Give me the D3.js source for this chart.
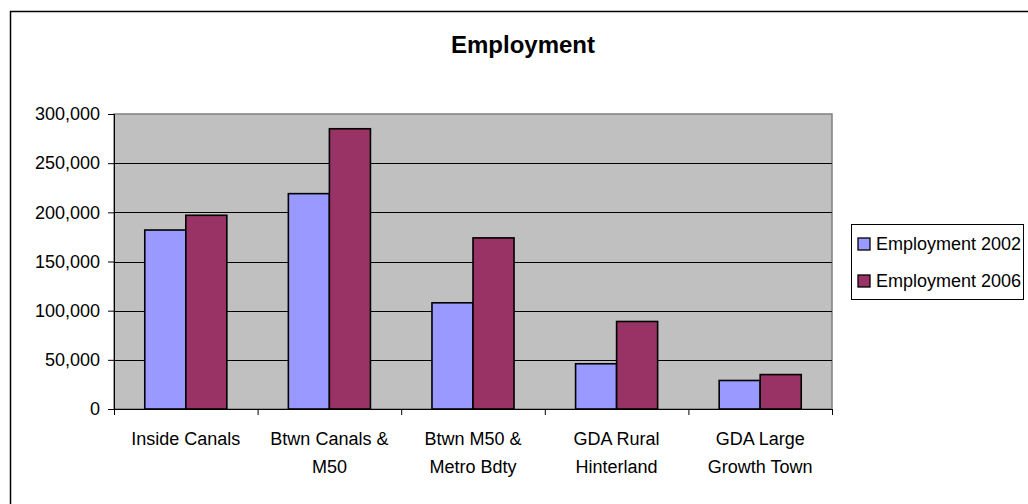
<!DOCTYPE html>
<html>
<head>
<meta charset="utf-8">
<script src="https://cdn.jsdelivr.net/npm/d3@7"></script>
<style>
  html, body { margin: 0; padding: 0; background: #fff; }
  svg { display: block; font-family: "Liberation Sans", Arial, sans-serif; }
</style>
</head>
<body>
<svg id="chart" width="1028" height="504"></svg>
<script>
// Employment by area, 2002 vs 2006
const categories = ["Inside Canals", "Btwn Canals & M50", "Btwn M50 & Metro Bdty", "GDA Rural Hinterland", "GDA Large Growth Town"];
const seriesNames = ["Employment 2002", "Employment 2006"];
const employment2002 = [182000, 219000, 108000, 46000, 29000];
const employment2006 = [197000, 285000, 174000, 89000, 35000];
const yTicks = [0, 50000, 100000, 150000, 200000, 250000, 300000];
const seriesColors = ["#9999FF", "#993366"];

const series = [employment2002, employment2006];
const svg = d3.select("#chart");

const plot = { left: 114, right: 832, top: 114, bottom: 409 };

// outer chart frame (runs off the right and bottom edges)
svg.append("rect")
  .attr("x", 10.5).attr("y", 11.5)
  .attr("width", 1200).attr("height", 700)
  .attr("fill", "#fff").attr("stroke", "#000").attr("stroke-width", 1.5);

// title
svg.append("text")
  .attr("x", 523).attr("y", 53)
  .attr("text-anchor", "middle")
  .attr("font-size", 24).attr("font-weight", "bold")
  .text("Employment");

const x = d3.scaleBand().domain(categories).range([plot.left, plot.right]).padding(0);
const xInner = d3.scaleBand().domain(seriesNames).range([0, x.bandwidth()]).paddingInner(0).paddingOuter(0.75);
const y = d3.scaleLinear().domain([0, 300000]).range([plot.bottom, plot.top]);

// plot background
svg.append("rect")
  .attr("x", plot.left).attr("y", plot.top)
  .attr("width", plot.right - plot.left).attr("height", plot.bottom - plot.top)
  .attr("fill", "#C0C0C0").attr("stroke", "#808080").attr("stroke-width", 1.5);

// horizontal gridlines
svg.append("g")
  .selectAll("line")
  .data(yTicks.filter(d => d > 0 && d < 300000))
  .join("line")
  .attr("x1", plot.left).attr("x2", plot.right)
  .attr("y1", d => Math.round(y(d)) + 0.5).attr("y2", d => Math.round(y(d)) + 0.5)
  .attr("stroke", "#000").attr("stroke-width", 1);

// bars
const groups = svg.append("g")
  .selectAll("g")
  .data(categories)
  .join("g")
  .attr("transform", d => `translate(${x(d)},0)`);

groups.selectAll("rect")
  .data((c, i) => seriesNames.map((s, j) => ({ s, v: series[j][i], j })))
  .join("rect")
  .attr("x", d => xInner(d.s))
  .attr("y", d => y(d.v))
  .attr("width", xInner.bandwidth())
  .attr("height", d => y(0) - y(d.v))
  .attr("fill", d => seriesColors[d.j])
  .attr("stroke", "#000").attr("stroke-width", 1.6);

// y axis
const yAxis = svg.append("g")
  .attr("transform", `translate(${plot.left},0)`)
  .call(d3.axisLeft(y).tickValues(yTicks).tickFormat(d3.format(",")).tickSize(6).tickPadding(8));
yAxis.selectAll("text").attr("font-size", 18).attr("fill", "#000").attr("font-family", "Liberation Sans, Arial, sans-serif");
yAxis.selectAll("line, path").attr("stroke", "#000");

// x axis: ticks at category boundaries
const xEdge = d3.scaleLinear().domain([0, categories.length]).range([plot.left, plot.right]);
const xAxis = svg.append("g")
  .attr("transform", `translate(0,${plot.bottom})`)
  .call(d3.axisBottom(xEdge).tickValues(d3.range(categories.length + 1)).tickFormat("").tickSize(6).tickSizeOuter(6));
xAxis.selectAll("line, path").attr("stroke", "#000");

// category labels, wrapped
const labelG = svg.append("g");
categories.forEach(c => {
  const t = labelG.append("text")
    .attr("x", x(c) + x.bandwidth() / 2)
    .attr("y", 445)
    .attr("text-anchor", "middle")
    .attr("font-size", 18);
  const words = c.split(" ");
  let line = [];
  let lineNo = 0;
  let ts = t.append("tspan").attr("x", x(c) + x.bandwidth() / 2).attr("dy", 0);
  words.forEach(w => {
    line.push(w);
    ts.text(line.join(" "));
    if (ts.node().getComputedTextLength() > 130 && line.length > 1) {
      line.pop();
      ts.text(line.join(" "));
      line = [w];
      lineNo++;
      ts = t.append("tspan").attr("x", x(c) + x.bandwidth() / 2).attr("dy", 28).text(w);
    }
  });
});

// legend
const legend = svg.append("g");
legend.append("rect")
  .attr("x", 851.5).attr("y", 224.5)
  .attr("width", 172).attr("height", 75)
  .attr("fill", "#fff").attr("stroke", "#000").attr("stroke-width", 1);
seriesNames.forEach((s, j) => {
  const yy = 238 + j * 37;
  legend.append("rect")
    .attr("x", 858).attr("y", yy)
    .attr("width", 12).attr("height", 12)
    .attr("fill", seriesColors[j]).attr("stroke", "#000").attr("stroke-width", 1.3);
  legend.append("text")
    .attr("x", 876).attr("y", yy + 12)
    .attr("font-size", 18)
    .text(s);
});
</script>
</body>
</html>
